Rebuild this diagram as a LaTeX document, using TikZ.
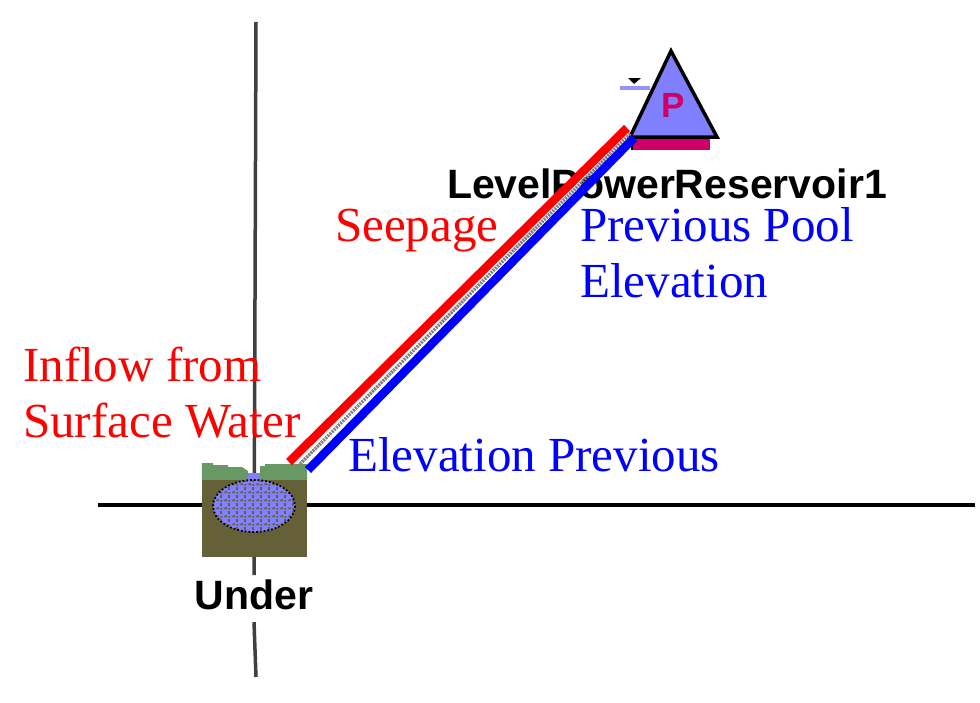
\documentclass[tikz,border=0pt]{standalone}
\usepackage{fontspec}
\setmainfont{Liberation Serif}
\newfontfamily\arialfont{Liberation Sans}
\usetikzlibrary{calc, patterns}
\definecolor{pool}{RGB}{128,128,255}
\definecolor{dam}{RGB}{204,0,102}
\definecolor{soil}{RGB}{102,96,56}
\definecolor{grass}{RGB}{104,152,100}
\pgfdeclarepatternformonly{speckle}{\pgfpointorigin}{\pgfpoint{8pt}{8pt}}{\pgfpoint{8pt}{8pt}}{
  \pgfpathrectangle{\pgfpoint{0.5pt}{1pt}}{\pgfpoint{3pt}{2pt}}
  \pgfpathrectangle{\pgfpoint{4.5pt}{4.5pt}}{\pgfpoint{2pt}{3pt}}
  \pgfpathrectangle{\pgfpoint{5pt}{0.5pt}}{\pgfpoint{2pt}{1.5pt}}
  \pgfusepath{fill}}

\begin{document}
\begin{tikzpicture}[x=1pt,y=-1pt,inner sep=0pt,
  lbl/.style={font=\fontsize{49}{56}\selectfont,anchor=base west,align=left},
  tag/.style={font=\arialfont\bfseries\fontsize{41}{41}\selectfont,anchor=base},
  link/.style={line width=8.5pt}]
\useasboundingbox (0,0) rectangle (980,702);
\coordinate (V1) at (256,22);
\coordinate (V2) at (256,677);
\coordinate (H1) at (98,505);
\coordinate (H2) at (975,505);
\draw node [tag,inner ysep=4pt,text depth=9pt] (UL) at (254,609) {Under};
\draw [line width=3.5pt,black!75] (V1) -- (UL.north);
\draw [line width=3.5pt,black!75] (UL.south) -- (V2);
\draw [line width=4pt] (H1) -- (H2);
\draw node [fill=soil,minimum width=105pt,minimum height=77pt] (U) at (254.5,518.5) {};
\fill [grass] (U.north west) -- (202,463) -- (213,463) -- (213,465) -- (228,465) -- (228,467) -- (242,467) -- (248,471) -- (248,480) -- cycle;
\fill [grass] (260,480) -- (260,466) -- (265,466) -- (265,464) -- (307,464) -- (U.north east) -- cycle;
\fill [pool] (248,473) rectangle (260,484);
\draw [pattern=speckle,pattern color=soil,preaction={fill=pool},dotted,line width=1.8pt] (254,506) ellipse [x radius=41,y radius=26];
\draw [line width=3.5pt,line join=miter,fill=pool] (671,51) -- (717,137) -- (630,137) -- cycle;
\fill [dam] (633,139) rectangle (710,150);
\draw [line width=1.5pt] (632,137) -- (632,150);
\draw node [font=\arialfont\bfseries\fontsize{35}{35}\selectfont,text=dam] (P) at (673,105) {P};
\draw [line width=4pt,pool!85] (620,88) -- (650,88);
\fill (628,78) -- (641,78) -- (634,84) -- cycle;
\draw node [tag] (RL) at (667,198) {LevelPowerReservoir1};
\draw node [lbl,text=red] (IN) at (23,437) {Inflow from\\Surface Water};
\draw node [lbl,text=red] (SP) at (335,241) {Seepage};
\draw node [lbl,text=blue] (PP) at (580,297) {Previous Pool\\Elevation};
\draw node [lbl,text=blue] (EP) at (348,471) {Elevation Previous};
\coordinate (S1) at (289,462);
\coordinate (S2) at (627,128);
\coordinate (E1) at (308,470);
\coordinate (E2) at (634,138);
\coordinate (M1) at (298,466);
\coordinate (M2) at (631,133);
\draw [line width=3.5pt,gray,dash pattern=on 2pt off 1pt] (M1) -- (M2);
\draw [link,red] (S1) -- (S2);
\draw [link,blue] (E1) -- (E2);
\end{tikzpicture}
\end{document}
